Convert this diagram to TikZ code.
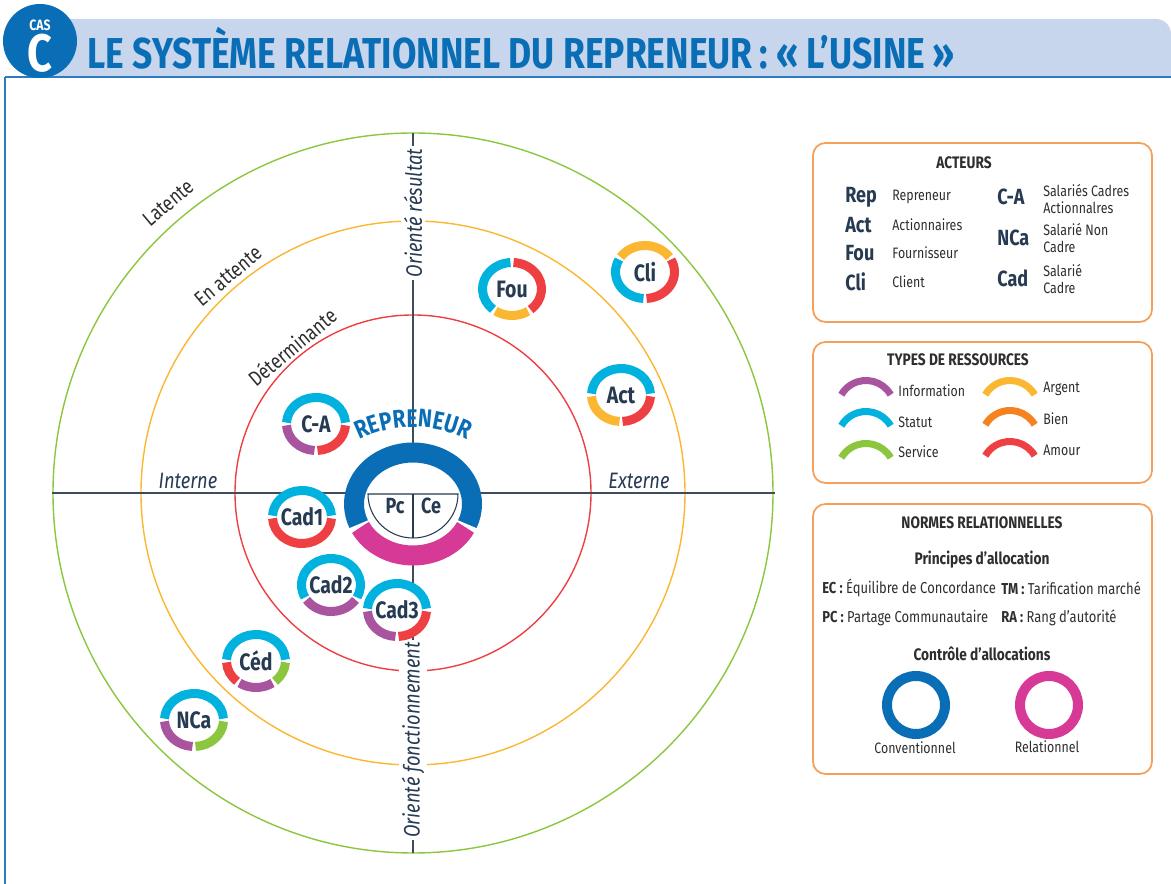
\documentclass[tikz,border=0pt]{standalone}
\usepackage{fontspec}
\setmainfont[FakeStretch=0.82]{Fira Sans}
\usetikzlibrary{decorations.text}

\definecolor{cstat}{HTML}{00B2DD}
\definecolor{cinfo}{HTML}{A9549F}
\definecolor{cserv}{HTML}{8CC63F}
\definecolor{carg}{HTML}{FBB731}
\definecolor{cbien}{HTML}{F58220}
\definecolor{camour}{HTML}{EE4043}
\definecolor{cconv}{HTML}{0A6EB6}
\definecolor{crel}{HTML}{D63A96}
\definecolor{cnavy}{HTML}{263A52}
\definecolor{ctext}{HTML}{2E2E2E}
\definecolor{cbox}{HTML}{F4A05A}
\definecolor{chead}{HTML}{C7D6EC}
\definecolor{cline}{HTML}{2C7BC3}
\definecolor{caxis}{HTML}{3E4D5E}

% one coloured piece of an actor ring
\newcommand{\ringseg}[4]{\draw[line width=0.18cm, #4] (#1.center) ++(#2:29.5 and 26.5) arc[start angle=#2, end angle=#3, x radius=29.5, y radius=26.5];}

\begin{document}
\begin{tikzpicture}[x=0.02cm, y=0.02cm,
  ringlabel/.style={font=\fontsize{13.5}{13.5}\selectfont\bfseries, text=cnavy, circle, fill=white, minimum size=1.04cm, inner sep=0pt},
  abbr/.style={font=\fontsize{12.5}{12.5}\selectfont\bfseries, text=cnavy, anchor=west, inner sep=0pt},
  desc/.style={font=\fontsize{8.6}{9.8}\selectfont, text=ctext, anchor=west, align=left, inner sep=0pt},
  boxtitle/.style={font=\fontsize{9.5}{9.5}\selectfont\bfseries, text=ctext},
  zone/.style={font=\fontsize{12}{12}\selectfont, text=ctext, rotate=40},
  axislabel/.style={font=\fontsize{12.7}{12.7}\selectfont\itshape, text=cnavy},
  legbox/.style={draw=cbox, line width=1pt, rounded corners=0.25cm},
  resarc/.style={line width=0.14cm},
  circ/.style={line width=0.8pt}]
\useasboundingbox (0,0) rectangle (1171,-884);

% header
\fill[chead] (40,-19) -- (1156,-19) arc[start angle=90, end angle=0, radius=15] -- (1171,-77) -- (40,-77) -- cycle;
\draw[cline, line width=1pt] (5,-77) -- (1171,-77);
\draw[cline, line width=0.8pt] (5,-77) -- (5,-884);
\fill[cconv] (40,-41) circle[radius=37];
\node[font=\fontsize{8.5}{8.5}\selectfont\bfseries, text=white] (cas) at (40,-25) {CAS};
\node[font=\fontsize{30}{30}\selectfont\bfseries, text=white] (casc) at (40,-53) {C};
\node[font=\fontsize{24.6}{24.6}\selectfont\bfseries, text=cconv, anchor=west, inner sep=0pt] (titre) at (87,-48) {LE SYSTÈME RELATIONNEL DU REPRENEUR\,: «\,L’USINE\,»};

% zones
\draw[circ, camour] (413,-493) circle[radius=178];
\draw[circ, carg] (413,-493) circle[radius=272];
\draw[circ, cserv] (413,-493) circle[radius=360];
\draw[caxis, line width=0.6pt] (413,-133) -- (413,-853);
\draw[caxis, line width=0.6pt] (52,-493) -- (775,-493);
\node[axislabel, rotate=90, fill=white, inner sep=1.5pt] (res) at (413,-213) {Orienté résultat};
\node[axislabel, rotate=90, fill=white, inner sep=1.5pt] (fonc) at (413,-740) {Orienté fonctionnement};
\node[axislabel] (interne) at (188,-481) {Interne};
\node[axislabel] (externe) at (639,-481) {Externe};
\node[zone] (latente) at (168,-203) {Latente};
\node[zone] (attente) at (228,-276) {En attente};
\node[zone] (determ) at (292,-347) {Déterminante};

% repreneur
\coordinate (rep) at (413,-504);
\fill[white] (rep) ellipse[x radius=59, y radius=51.5];
\draw[line width=0.4cm, cconv] (rep) ++(-23:59 and 51.5) arc[start angle=-23, end angle=203, x radius=59, y radius=51.5];
\draw[line width=0.4cm, crel] (rep) ++(207:59 and 51.5) arc[start angle=207, end angle=333, x radius=59, y radius=51.5];
\draw[cnavy, line width=0.6pt, fill=white] (368,-494) -- (458,-494) arc[start angle=0, end angle=-180, x radius=45, y radius=44] -- cycle;
\draw[cnavy, line width=0.6pt] (413,-494) -- (413,-538);
\node[font=\fontsize{12.5}{12.5}\selectfont\bfseries, text=cnavy] (pc) at (395,-506) {Pc};
\node[font=\fontsize{12.5}{12.5}\selectfont\bfseries, text=cnavy] (ce) at (431,-506) {Ce};
\path[decorate, decoration={text along path, text align=center, text color=cconv,
  text={|\fontsize{14.5}{14.5}\selectfont\bfseries|REPRENEUR}}]
  (413,-547) ++(145:120) arc[start angle=145, end angle=35, radius=120];

% acteurs
\node[ringlabel] (ca) at (316,-424) {C-A};
\ringseg{ca}{3}{177}{cstat}\ringseg{ca}{183}{267}{cinfo}\ringseg{ca}{273}{357}{camour}
\node[ringlabel] (cad1) at (302,-517) {Cad1};
\ringseg{cad1}{3}{177}{cstat}\ringseg{cad1}{183}{357}{camour}
\node[ringlabel] (cad2) at (331,-585) {Cad2};
\ringseg{cad2}{-28}{208}{cstat}\ringseg{cad2}{214}{326}{cinfo}
\node[ringlabel] (cad3) at (397,-610) {Cad3};
\ringseg{cad3}{3}{177}{cstat}\ringseg{cad3}{183}{267}{cinfo}\ringseg{cad3}{273}{357}{camour}
\node[ringlabel] (ced) at (256,-661) {Céd};
\ringseg{ced}{3}{177}{cstat}\ringseg{ced}{183}{230}{camour}\ringseg{ced}{236}{304}{cinfo}\ringseg{ced}{310}{357}{cserv}
\node[ringlabel] (nca) at (194,-720) {NCa};
\ringseg{nca}{3}{177}{cstat}\ringseg{nca}{183}{267}{cinfo}\ringseg{nca}{273}{357}{cserv}
\node[ringlabel] (fou) at (512,-289) {Fou};
\ringseg{fou}{93}{230}{cstat}\ringseg{fou}{236}{303}{carg}\ringseg{fou}{309}{447}{camour}
\node[ringlabel] (cli) at (645,-272) {Cli};
\ringseg{cli}{34}{146}{carg}\ringseg{cli}{152}{267}{cstat}\ringseg{cli}{273}{388}{camour}
\node[ringlabel] (act) at (621,-395) {Act};
\ringseg{act}{3}{177}{cstat}\ringseg{act}{183}{267}{carg}\ringseg{act}{273}{357}{camour}

% legende acteurs
\draw[legbox] (813,-143) rectangle (1152,-322);
\node[boxtitle] (tActeurs) at (964,-163) {ACTEURS};
\node[abbr] (kRep) at (845,-197) {Rep};
\node[abbr] (kAct) at (845,-225) {Act};
\node[abbr] (kFou) at (845,-253) {Fou};
\node[abbr] (kCli) at (845,-282) {Cli};
\node[desc] (dRep) at (892,-197) {Repreneur};
\node[desc] (dAct) at (892,-225) {Actionnaires};
\node[desc] (dFou) at (892,-253) {Fournisseur};
\node[desc] (dCli) at (892,-282) {Client};
\node[abbr] (kCA) at (997,-197) {C-A};
\node[abbr] (kNCa) at (997,-238) {NCa};
\node[abbr] (kCad) at (997,-278) {Cad};
\node[desc] (dCA) at (1043,-199) {Salariés Cadres\\Actionnalres};
\node[desc] (dNCa) at (1043,-238) {Salarié Non\\Cadre};
\node[desc] (dCad) at (1043,-279) {Salarié\\Cadre};

% legende ressources
\draw[legbox] (813,-342) rectangle (1152,-483);
\node[boxtitle] (tRes) at (958,-360) {TYPES DE RESSOURCES};
\draw[resarc, cinfo] (866,-409) ++(30:28.5) arc[start angle=30, end angle=150, radius=28.5];
\draw[resarc, cstat] (866,-440) ++(30:28.5) arc[start angle=30, end angle=150, radius=28.5];
\draw[resarc, cserv] (866,-472) ++(30:28.5) arc[start angle=30, end angle=150, radius=28.5];
\draw[resarc, carg] (1010,-409) ++(30:28.5) arc[start angle=30, end angle=150, radius=28.5];
\draw[resarc, cbien] (1010,-439) ++(30:28.5) arc[start angle=30, end angle=150, radius=28.5];
\draw[resarc, camour] (1010,-470) ++(30:28.5) arc[start angle=30, end angle=150, radius=28.5];
\node[desc] (rInfo) at (898,-391) {Information};
\node[desc] (rStat) at (898,-422) {Statut};
\node[desc] (rServ) at (898,-452) {Service};
\node[desc] (rArg) at (1043,-389) {Argent};
\node[desc] (rBien) at (1043,-419) {Bien};
\node[desc] (rAmour) at (1043,-450) {Amour};

% legende normes
\draw[legbox] (813,-504) rectangle (1152,-774);
\node[boxtitle] (tNormes) at (982,-523) {NORMES RELATIONNELLES};
\node[boxtitle] (tPrinc) at (982,-560) {Principes d’allocation};
\node[desc, font=\fontsize{9}{9}\selectfont] (nEC) at (822,-588) {\textbf{EC :} Équilibre de Concordance};
\node[desc, font=\fontsize{9}{9}\selectfont] (nTM) at (1001,-588) {\textbf{TM :} Tarification marché};
\node[desc, font=\fontsize{9}{9}\selectfont] (nPC) at (822,-618) {\textbf{PC :} Partage Communautaire};
\node[desc, font=\fontsize{9}{9}\selectfont] (nRA) at (1001,-618) {\textbf{RA :} Rang d’autorité};
\node[boxtitle] (tCtrl) at (982,-654) {Contrôle d’allocations};
\draw[cconv, line width=0.2cm] (916,-705) circle[radius=29];
\draw[crel, line width=0.2cm] (1049,-705) circle[radius=29];
\node[desc, anchor=center] (lConv) at (915,-748) {Conventionnel};
\node[desc, anchor=center] (lRel) at (1047,-747) {Relationnel};
\end{tikzpicture}
\end{document}
